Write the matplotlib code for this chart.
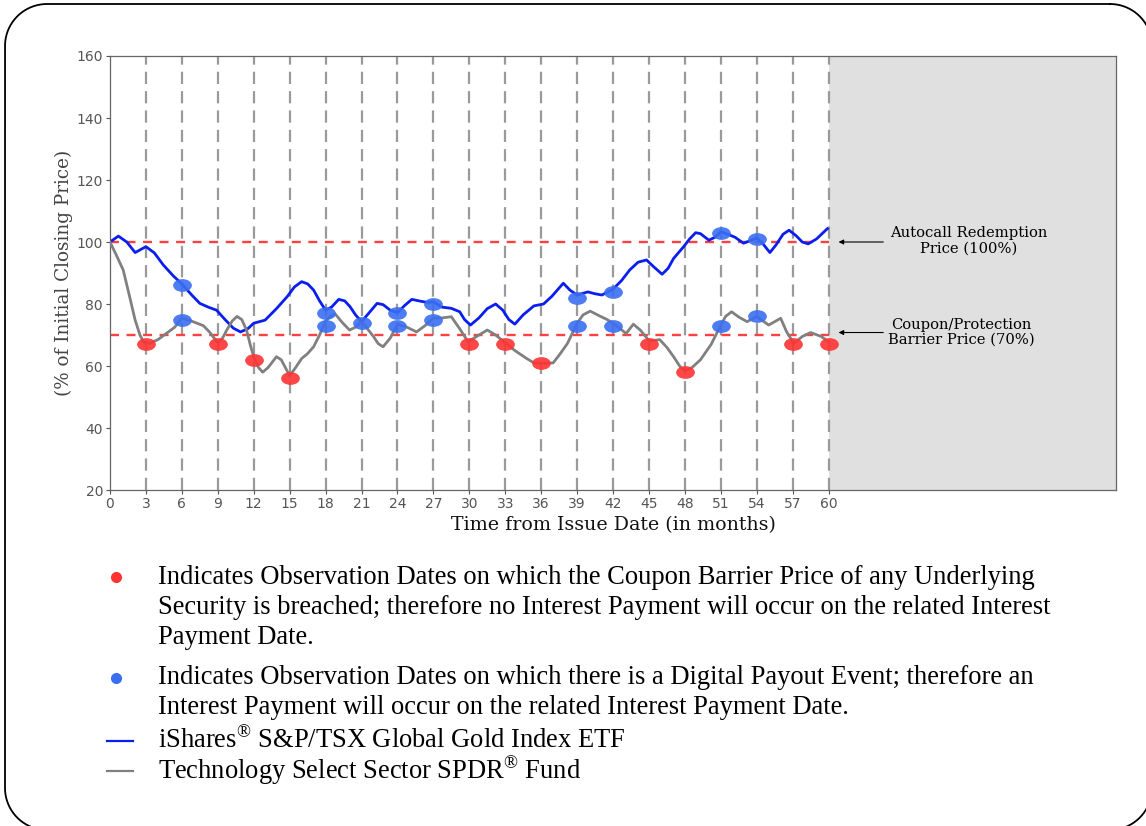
import matplotlib
matplotlib.use("Agg")
import matplotlib.pyplot as plt
import numpy as np
from matplotlib.path import Path

plt.rcParams['mathtext.fontset'] = 'custom'
plt.rcParams['mathtext.rm'] = 'Liberation Serif'

# months from issue date / level in % of initial closing price
gold_x = [0, 0.7, 1.4, 2.1, 3, 3.7, 4.45, 5.3, 6, 6.8, 7.5, 8.2, 8.9, 9.6, 10.3, 10.9,
          11.5, 12, 12.95, 13.9, 14.8, 15.4, 16, 16.5, 17, 17.5, 18, 18.5, 19.1, 19.6,
          20.05, 20.5, 21, 21.6, 22.3, 22.8, 23.4, 24, 24.6, 25.2, 25.8, 26.5, 27, 27.7,
          28.5, 29.2, 29.6, 30.1, 30.8, 31.5, 32.2, 32.8, 33.3, 33.8, 34.5, 35.4, 36.2,
          36.9, 37.85, 38.4, 39, 39.9, 40.5, 41.07, 42, 42.7, 43.4, 44.1, 44.8, 45.4,
          46.1, 46.6, 47.06, 47.9, 48.4, 48.9, 49.3, 50, 50.5, 51, 51.6, 52.2, 52.9,
          53.5, 54, 54.5, 55.1, 55.6, 56.2, 56.7, 57.3, 57.8, 58.3, 59, 59.9]
gold_y = [100, 101.9, 100, 96.6, 98.5, 96.5, 92.6, 89, 86.5, 83, 80.2, 79, 78, 75, 72.2, 71,
          72, 73.8, 74.8, 78.5, 82.4, 85.5, 87.2, 86.5, 84.5, 81, 78, 79, 81.5, 81,
          79.1, 76.5, 74.3, 77, 80.2, 79.8, 78, 77.2, 79.5, 81.5, 81, 80.5, 80.7, 79,
          78.6, 77.5, 75, 73.2, 75.5, 78.5, 80, 78, 75, 73.5, 76.5, 79.4, 80,
          82.5, 86.7, 84.5, 82.9, 83.9, 83.3, 82.9, 84.8, 87.5, 91, 93.5, 94.2, 92,
          89.6, 91.5, 94.7, 98.5, 101, 103, 102.7, 100.6, 101.5, 103.3, 102.5, 101.5, 99.6,
          100.5, 101.3, 99.5, 96.6, 99, 102.5, 103.8, 102, 100, 99.4, 101, 104.3]

tech_x = [0, 0.5, 1.1, 1.6, 2.1, 2.5, 2.8, 3.3, 4, 4.7, 5.4, 6, 6.8, 7.8, 8.3, 8.6, 9, 9.4,
          9.75, 10.2, 10.6, 11, 11.4, 11.7, 12, 12.4, 12.75, 13.2, 13.9, 14.3, 14.6, 15,
          15.5, 16, 16.5, 17, 17.5, 18, 18.4, 18.8, 19.4, 20, 20.5, 21, 21.5, 22, 22.4,
          22.8, 23.4, 24, 24.8, 25.6, 26.3, 27, 27.7, 28.5, 29.2, 29.9, 30.6, 31.5, 32.2,
          33, 33.8, 34.8, 35.4, 36, 37, 37.6, 38.2, 39, 39.5, 40.1, 40.9, 41.5, 42, 42.6,
          43.1, 43.7, 44.3, 45, 45.5, 45.9, 46.5, 47.06, 47.6, 48, 48.6, 49.3, 50.2, 51,
          51.4, 51.9, 52.5, 53.2, 54, 55, 55.5, 56, 56.5, 57.1, 57.8, 58.5, 59.4, 60]
tech_y = [100, 96, 91, 83, 74.8, 70, 67.8, 67.3, 68.5, 70.5, 72.5, 75.5, 74.5, 73, 71, 69.5, 67.5, 69,
          71.6, 74.5, 76, 75, 71.6, 67, 63, 59.5, 58, 59.5, 63, 62, 59.8, 56.8,
          59.5, 62.4, 64, 66.2, 70, 74.5, 76, 76.8, 74, 71.6, 72.5, 74.3, 72, 69.5, 67.2,
          66.2, 69, 73.5, 72.5, 71, 73, 75.5, 75.5, 75.9, 72, 67.8, 69.5, 71.6, 70,
          67.5, 65, 62.4, 61, 60.8, 61, 64, 67.3, 73.8, 76.5, 77.7, 76.1, 75, 73.8, 72,
          70.5, 73.5, 71.5, 68.2, 68.3, 68.5, 66, 63, 59.8, 58.5, 59.5, 62, 67, 73.2,
          76, 77.5, 75.8, 74.3, 76, 73.2, 74.3, 75.4, 71, 67.3, 69.5, 70.8, 69.5, 67.8]

# observation dates: red = coupon barrier breached, blue = digital payout event
red_x = [3, 9, 12, 15, 30, 33, 36, 45, 48, 57, 60]
red_y = [67, 67, 62, 56, 67, 67, 61, 67, 58, 67, 67]
blue_x = [6, 18, 21, 24, 27, 39, 42, 51, 54, 6, 18, 24, 27, 39, 42, 51, 54]
blue_y = [86, 77, 74, 77, 80, 82, 84, 103, 101, 75, 73, 73, 75, 73, 73, 73, 76]

obs_months = list(range(3, 61, 3))
autocall_level = 100
barrier_level = 70

legend_lines = [
    "Indicates Observation Dates on which the Coupon Barrier Price of any Underlying",
    "Security is breached; therefore no Interest Payment will occur on the related Interest",
    "Payment Date.",
    "Indicates Observation Dates on which there is a Digital Payout Event; therefore an",
    "Interest Payment will occur on the related Interest Payment Date.",
    "iShares$^{\u00ae}$ S&P/TSX Global Gold Index ETF",
    "Technology Select Sector SPDR$^{\u00ae}$ Fund",
]


def rounded_rect(x0, y0, x1, y1, r, n=40):
    # outline of a rounded rectangle as a polyline (y axis pointing down)
    xs, ys = [], []
    corners = [(x1 - r, y0 + r, -90, 0), (x1 - r, y1 - r, 0, 90),
               (x0 + r, y1 - r, 90, 180), (x0 + r, y0 + r, 180, 270)]
    for cx, cy, a0, a1 in corners:
        t = np.radians(np.linspace(a0, a1, n))
        xs.extend(cx + r * np.cos(t))
        ys.extend(cy + r * np.sin(t))
    xs.append(xs[0])
    ys.append(ys[0])
    return xs, ys


W, H = 1146, 826
fig = plt.figure(figsize=(W / 100, H / 100), dpi=100)
ax = fig.add_axes([110 / W, 1 - 490 / H, (1116 - 110) / W, (490 - 56) / H])

circ = Path.unit_circle()
ell = Path(circ.vertices * np.array([1.0, 0.68]), circ.codes)

ax.axvspan(60, 84, color='#e0e0e0', zorder=0, lw=0)
for m in obs_months:
    ax.axvline(m, color='#9a9a9a', lw=1.6, ls=(0, (5.5, 3.2)), zorder=1)
ax.plot([0, 60], [autocall_level] * 2, color='#ff4040', lw=1.7, ls=(0, (3.8, 3.2)), zorder=2)
ax.plot([0, 60], [barrier_level] * 2, color='#ff4040', lw=1.7, ls=(0, (3.8, 3.2)), zorder=2)

ax.plot(gold_x, gold_y, color='#0a1ef0', lw=2, zorder=3, solid_joinstyle='round')
ax.plot(tech_x, tech_y, color='#808080', lw=2, zorder=3, solid_joinstyle='round')

ax.plot(red_x, red_y, ls='none', marker=ell, ms=13.5, color='#ff3333', alpha=0.9,
        mec='none', zorder=4)
ax.plot(blue_x, blue_y, ls='none', marker=ell, ms=13.5, color='#3a6ef2', alpha=0.9,
        mec='none', zorder=4)

ax.set_xlim(0, 84)
ax.set_ylim(20, 160)
ax.set_xticks(range(0, 61, 3))
ax.set_yticks(range(20, 161, 20))
ax.tick_params(colors='#555555', labelsize=10, length=3, width=0.8, pad=2)
for s in ax.spines.values():
    s.set_color('#666666')
    s.set_linewidth(0.9)

ax.set_xlabel("Time from Issue Date (in months)", family='DejaVu Serif', fontsize=13.7,
              color='#111111', labelpad=3.5)
ax.set_ylabel("(% of Initial Closing Price)", family='DejaVu Serif', fontsize=13.2,
              color='#444444', labelpad=2.5)

ann_font = dict(family='DejaVu Serif', fontsize=10.6, color='black', ha='center',
                va='center', linespacing=1.1)
ax.annotate('', xy=(60.6, autocall_level), xytext=(64.8, autocall_level),
            arrowprops=dict(arrowstyle='-|>', color='black', lw=0.8, mutation_scale=7))
ax.text(71.7, 100.4, "Autocall Redemption\nPrice (100%)", **ann_font)
ax.annotate('', xy=(60.6, 70.8), xytext=(64.8, 70.8),
            arrowprops=dict(arrowstyle='-|>', color='black', lw=0.8, mutation_scale=7))
ax.text(71.1, 70.8, "Coupon/Protection\nBarrier Price (70%)", **ann_font)

# legend area drawn in pixel coordinates of the figure
lg = fig.add_axes([0, 0, 1, 1], zorder=-1)
lg.set_xlim(0, W)
lg.set_ylim(H, 0)
lg.axis('off')
lg.patch.set_alpha(0)

bx, by = rounded_rect(5, 4, 1152, 830, 42)
lg.plot(bx, by, color='black', lw=1.3, clip_on=True)

text_y = [577, 607, 637, 678, 708, 740, 770]
for y, s in zip(text_y, legend_lines):
    lg.text(158, y, s, family='Liberation Serif', fontsize=19.1, color='black',
            va='center', ha='left')
lg.plot([116], [577], 'o', ms=8, color='#ff3333', mec='none')
lg.plot([116], [678], 'o', ms=8, color='#3a6ef2', mec='none')
lg.plot([107, 133], [741, 741], color='#0a1ef0', lw=1.6)
lg.plot([107, 133], [771, 771], color='#808080', lw=1.6)

fig.savefig("out.png", dpi=100)
